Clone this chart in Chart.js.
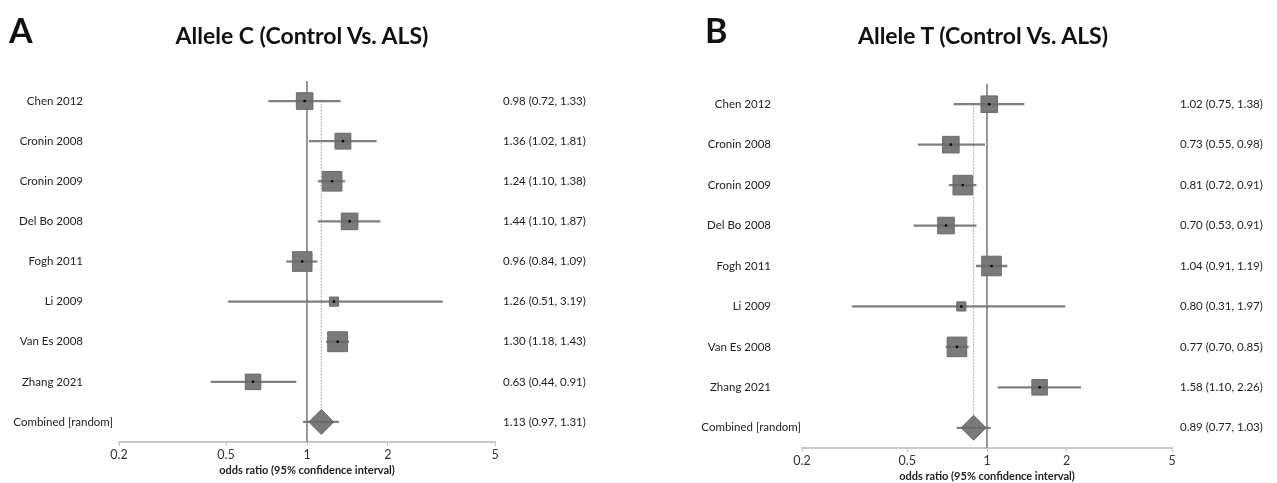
<!DOCTYPE html>
<html>
<head>
<meta charset="utf-8">
<script src="https://cdn.jsdelivr.net/npm/chart.js@4/dist/chart.umd.min.js"></script>
<style>
  body { margin: 0; background: #fff; }
  #wrap { position: relative; width: 1277px; height: 483px; overflow: hidden; font-family: Lato, sans-serif; color: #111; }
  canvas { position: absolute; top: 0; }
  .tag { position: absolute; font-weight: bold; font-size: 34px; line-height: 34px; }
  .ttl { position: absolute; font-weight: bold; font-size: 23px; line-height: 24px; transform: translateX(-50%); white-space: nowrap; }
</style>
</head>
<body>
<div id="wrap">
  <canvas id="chartA" width="640" height="483" style="left:0"></canvas>
  <canvas id="chartB" width="637" height="483" style="left:640px"></canvas>
  <div class="tag" style="left:9px;top:13px">A</div>
  <div class="ttl" style="left:302px;top:23px">Allele C (Control Vs. ALS)</div>
  <div class="tag" style="left:705px;top:13px">B</div>
  <div class="ttl" style="left:983px;top:23px">Allele T (Control Vs. ALS)</div>
</div>
<script>
// studies, same order in both panels
var studies = ['Chen 2012', 'Cronin 2008', 'Cronin 2009', 'Del Bo 2008', 'Fogh 2011', 'Li 2009', 'Van Es 2008', 'Zhang 2021'];
var pooledLabel = 'Combined [random]';
var tickValues = [0.2, 0.5, 1, 2, 5];

// allele C
var orC = [0.98, 1.36, 1.24, 1.44, 0.96, 1.26, 1.30, 0.63];
var lowC = [0.72, 1.02, 1.10, 1.10, 0.84, 0.51, 1.18, 0.44];
var highC = [1.33, 1.81, 1.38, 1.87, 1.09, 3.19, 1.43, 0.91];
var weightC = [11.5, 10.5, 16, 11.5, 16, 3.5, 16.5, 10];
var pooledC = [1.13, 0.97, 1.31];

// allele T
var orT = [1.02, 0.73, 0.81, 0.70, 1.04, 0.80, 0.77, 1.58];
var lowT = [0.75, 0.55, 0.72, 0.53, 0.91, 0.31, 0.70, 1.10];
var highT = [1.38, 0.98, 0.91, 0.91, 1.19, 1.97, 0.85, 2.26];
var weightT = [11.5, 11.5, 16, 11.5, 16, 3.5, 16, 10];
var pooledT = [0.89, 0.77, 1.03];

var grey = '#7a7a7a';
var lineGrey = 'rgba(105,105,105,0.85)';

function fmt(o, l, h) {
  return o.toFixed(2) + ' (' + l.toFixed(2) + ', ' + h.toFixed(2) + ')';
}

// row labels on the left and OR (CI) text on the right
function rowTextPlugin(labels, values, labelGap, pooledShift, valueGap) {
  return {
    id: 'rowText',
    afterDraw: function(chart) {
      var ctx = chart.ctx, area = chart.chartArea, y = chart.scales.y;
      ctx.save();
      ctx.font = '11.5px Lato';
      ctx.fillStyle = '#222';
      ctx.textBaseline = 'middle';
      for (var i = 0; i < labels.length; i++) {
        var py = y.getPixelForValue(i);
        ctx.textAlign = 'right';
        var lx = area.left - labelGap + (i === labels.length - 1 ? pooledShift : 0);
        ctx.fillText(labels[i], lx, py);
        ctx.textAlign = 'left';
        ctx.fillText(values[i], area.right + valueGap, py);
      }
      ctx.restore();
    }
  };
}

function forest(id, or, low, high, weight, pooled, pad, labelGap, bottomPad) {
  var n = or.length;
  var labels = studies.concat([pooledLabel]);
  var values = or.map(function(o, i) { return fmt(o, low[i], high[i]); });
  values.push(fmt(pooled[0], pooled[1], pooled[2]));

  var ci = or.map(function(o, i) { return { x: [low[i], high[i]], y: i }; });
  ci.push({ x: [pooled[1], pooled[2]], y: n });
  var pts = or.map(function(o, i) { return { x: o, y: i }; });
  var boxSize = weight.map(function(w) { return 4.9 * Math.sqrt(w) / (2 * Math.SQRT1_2); });

  return new Chart(document.getElementById(id), {
    type: 'scatter',
    data: {
      datasets: [
        { type: 'scatter', data: pts, pointRadius: 1.3, pointBackgroundColor: '#000', pointBorderWidth: 0 },
        { type: 'bar', indexAxis: 'y', data: ci, backgroundColor: lineGrey, barThickness: 1.6, borderWidth: 0 },
        { type: 'scatter', data: pts, pointStyle: 'rect', pointRadius: boxSize,
          pointBackgroundColor: grey, pointBorderColor: '#6a6a6a', pointBorderWidth: 1 },
        { type: 'scatter', data: [{ x: pooled[0], y: n }], pointStyle: 'rectRot', pointRadius: 12.5,
          pointBackgroundColor: grey, pointBorderColor: '#6a6a6a', pointBorderWidth: 1 },
        { type: 'line', data: [{ x: 1, y: -0.5 }, { x: 1, y: n + 0.5 }], borderColor: '#858585',
          borderWidth: 1.7, pointRadius: 0 },
        { type: 'line', data: [{ x: pooled[0], y: 0 }, { x: pooled[0], y: n }], borderColor: '#9a9a9a',
          borderWidth: 1, borderDash: [1.5, 1.5], pointRadius: 0 }
      ]
    },
    options: {
      responsive: false,
      animation: false,
      layout: { padding: { left: pad[0], right: pad[1], top: pad[2], bottom: bottomPad } },
      plugins: { legend: { display: false }, tooltip: { enabled: false } },
      scales: {
        x: {
          type: 'logarithmic', min: 0.2, max: 5,
          afterBuildTicks: function(s) { s.ticks = tickValues.map(function(v) { return { value: v }; }); },
          afterFit: function(s) { s.height = 35; },
          ticks: { autoSkip: false, maxRotation: 0, padding: 1, color: '#333', font: { family: 'Lato', size: 12.5 },
                   callback: function(v) { return String(v); } },
          grid: { drawOnChartArea: false, drawTicks: true, tickLength: 4, color: '#c8c8c8' },
          border: { color: '#c8c8c8', width: 2 },
          title: { display: true, text: 'odds ratio (95% confidence interval)', color: '#222',
                   font: { family: 'Lato', size: 11, weight: 'bold' }, padding: 0 }
        },
        y: { type: 'linear', reverse: true, offset: false, min: -0.5, max: n + 0.5, display: false }
      }
    },
    plugins: [rowTextPlugin(labels, values, labelGap, 30, 8)]
  });
}

forest('chartA', orC, lowC, highC, weightC, pooledC, [119, 145, 81], 36, 6);
forest('chartB', orT, lowT, highT, weightT, pooledT, [162, 105, 84], 31, 0);
</script>
</body>
</html>
